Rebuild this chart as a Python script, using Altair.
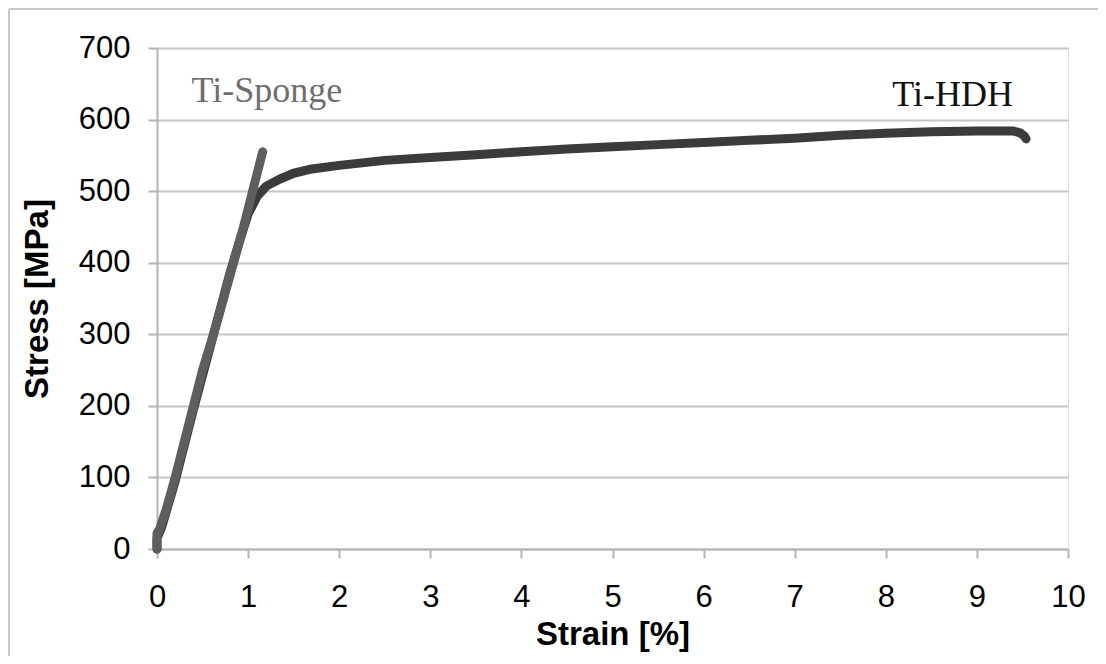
import altair as alt
import pandas as pd

# Ti-Sponge curve (strain %, stress MPa)
sponge_strain = [0.00, 0.00, 0.03, 0.10, 0.20, 0.30, 0.40, 0.50, 0.62, 0.72, 0.84, 0.95, 1.05, 1.10, 1.14, 1.16]
sponge_stress = [0, 22, 28, 55, 100, 150, 200, 250, 300, 345, 400, 450, 500, 525, 545, 555]

# Ti-HDH curve (strain %, stress MPa)
hdh_strain = [0.00, 0.00, 0.05, 0.20, 0.40, 0.60, 0.80, 0.90, 1.00, 1.10, 1.20, 1.35, 1.50, 1.70, 2.00,
              2.50, 3.00, 3.50, 4.00, 4.50, 5.00, 5.50, 6.00, 6.50, 7.00, 7.50, 8.00, 8.50, 9.00,
              9.40, 9.48, 9.52, 9.54]
hdh_stress = [0, 15, 30, 95, 195, 290, 385, 428, 468, 493, 507, 517, 525, 531, 536,
              543, 547, 551, 555, 559, 562, 565, 568, 571, 574, 578, 581, 583, 584,
              584, 581, 577, 573]

series_names = ["Ti-HDH", "Ti-Sponge"]
series_colors = ["#3b3b3b", "#5e5e5e"]

label_text = ["Ti-Sponge", "Ti-HDH"]
label_x = [0.38, 8.07]
label_y = [624, 619]
label_colors = ["#6e6e6e", "#111111"]

x_ticks = list(range(0, 11))
y_ticks = list(range(0, 701, 100))

rows = []
for i, (s, t) in enumerate(zip(hdh_strain, hdh_stress)):
    rows.append({"series": series_names[0], "i": i, "strain": s, "stress": t})
for i, (s, t) in enumerate(zip(sponge_strain, sponge_stress)):
    rows.append({"series": series_names[1], "i": i, "strain": s, "stress": t})
df = pd.DataFrame(rows)

labels = pd.DataFrame({"text": label_text, "x": label_x, "y": label_y, "color": label_colors})

W, H = 911, 501

xscale = alt.Scale(domain=[0, 10], nice=False, zero=True)
yscale = alt.Scale(domain=[0, 700], nice=False, zero=True)

x_axis = alt.Axis(values=x_ticks, format="d", title="Strain [%]", grid=False, labelFontSize=31,
                  labelFont="Liberation Sans", labelColor="#000000", labelPadding=24,
                  tickSize=9, tickColor="#b4b4b4", tickWidth=2, domainColor="#b4b4b4", domainWidth=2,
                  titleFont="Liberation Sans", titleFontSize=33, titleFontWeight="bold",
                  titleColor="#000000", titlePadding=6, labelFlush=False)
y_axis = alt.Axis(values=y_ticks, format="d", title="Stress [MPa]", grid=True, gridColor="#c6c6c6", gridWidth=2,
                  labelFontSize=31, labelFont="Liberation Sans", labelColor="#000000", labelPadding=18,
                  tickSize=9, tickColor="#b4b4b4", tickWidth=2, domainColor="#b4b4b4", domainWidth=2,
                  titleFont="Liberation Sans", titleFontSize=33, titleFontWeight="bold",
                  titleColor="#000000", titlePadding=24, labelFlush=False)

lines = alt.Chart(df).mark_line(strokeWidth=9, strokeCap="round", strokeJoin="round").encode(
    x=alt.X("strain:Q", scale=xscale, axis=x_axis),
    y=alt.Y("stress:Q", scale=yscale, axis=y_axis),
    color=alt.Color("series:N", scale=alt.Scale(domain=series_names, range=series_colors), legend=None),
    order="i:Q",
    detail="series:N",
)

text = alt.Chart(labels).mark_text(align="left", baseline="alphabetic", font="Liberation Serif",
                                   fontSize=36).encode(
    x=alt.X("x:Q", scale=xscale),
    y=alt.Y("y:Q", scale=yscale),
    text="text:N",
    color=alt.Color("color:N", scale=None),
)

border_left = alt.Chart(labels).mark_rule(color="#c8c8c8", strokeWidth=2).encode(
    x=alt.value(-148), y=alt.value(-39), y2=alt.value(608))
border_top = alt.Chart(labels).mark_rule(color="#c8c8c8", strokeWidth=2).encode(
    x=alt.value(-148), x2=alt.value(941), y=alt.value(-39))

chart = alt.layer(border_left, border_top, lines, text).properties(
    width=W, height=H,
    autosize=alt.AutoSizeParams(type="none"),
    padding={"left": 149, "top": 40, "right": 30, "bottom": 107},
).configure_view(stroke=None).configure(background="white")

chart.save("out.html", embed_options={"renderer": "svg", "actions": False})
